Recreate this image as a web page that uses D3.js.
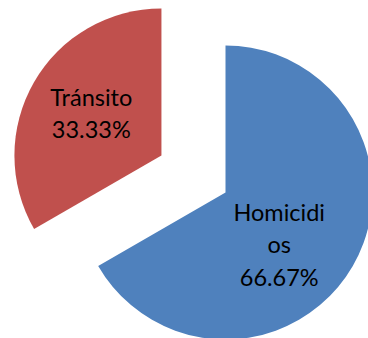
<!DOCTYPE html>
<html>
<head>
<meta charset="utf-8">
<script src="https://cdn.jsdelivr.net/npm/d3@7"></script>
<style>
  html, body { margin: 0; padding: 0; background: #fff; }
  svg { display: block; }
</style>
</head>
<body>
<svg id="chart" width="368" height="338"></svg>
<script>
// Causes of death and their values
const categories = ["Homicidios", "Tránsito"];
const values = [66.67, 33.33];
// Label lines as wrapped inside the slices
const labelNames = [["Homicidi", "os"], ["Tránsito"]];
const colors = ["#4F81BD", "#C0504D"];

const width = 368, height = 338;
const cx = 225.5, cy = 192.5, radius = 147;
const explode = [0, 74];          // outward offset per slice
const labelRadius = [76, 81];
const labelAngleShift = [Math.PI / 12, 0]; // nudges the first label toward the slice interior

const svg = d3.select("#chart");
const total = d3.sum(values);

const pie = d3.pie().sort(null).value(d => d.value).startAngle(0).endAngle(2 * Math.PI);
const arc = d3.arc().innerRadius(0).outerRadius(radius);

const data = categories.map((c, i) => ({ name: c, value: values[i], i }));
const arcs = pie(data);

const g = svg.append("g").attr("transform", `translate(${cx},${cy})`);

const slice = g.selectAll("g.slice")
  .data(arcs)
  .join("g")
  .attr("class", "slice")
  .attr("transform", d => {
    const mid = (d.startAngle + d.endAngle) / 2;
    const off = explode[d.data.i];
    return `translate(${off * Math.sin(mid)},${-off * Math.cos(mid)})`;
  });

slice.append("path")
  .attr("d", arc)
  .attr("fill", d => colors[d.data.i]);

const fmt = d3.format(".2%");
const lineH = 32.5;

slice.each(function(d) {
  const i = d.data.i;
  const mid = (d.startAngle + d.endAngle) / 2 + labelAngleShift[i];
  const lx = labelRadius[i] * Math.sin(mid);
  const ly = -labelRadius[i] * Math.cos(mid);
  const lines = labelNames[i].concat([fmt(d.data.value / total)]);
  const n = lines.length;
  const text = d3.select(this).append("text")
    .attr("text-anchor", "middle")
    .attr("font-family", "Lato, 'Open Sans', sans-serif")
    .attr("font-size", 23.5)
    .attr("fill", "#000");
  lines.forEach((t, k) => {
    text.append("tspan")
      .attr("x", lx)
      .attr("y", ly + (k - (n - 1) / 2) * lineH)
      .attr("dy", "0.3em")
      .text(t);
  });
});
</script>
</body>
</html>
